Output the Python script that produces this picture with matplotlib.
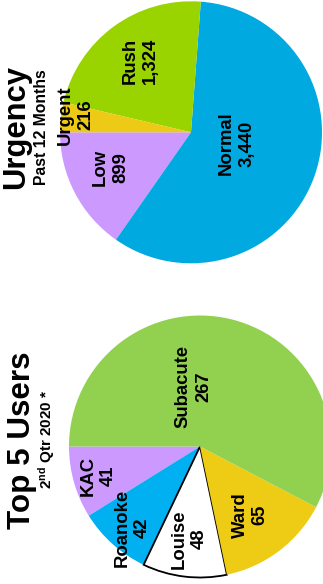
import matplotlib
matplotlib.use("Agg")
import matplotlib.pyplot as plt
import numpy as np

# ---- data ----
urg_labels = ["Low", "Normal", "Rush", "Urgent"]
urg_values = [899, 3440, 1324, 216]
urg_colors = ["#CC99FF", "#00A9E0", "#99D300", "#EDCA16"]

usr_labels = ["KAC", "Roanoke", "Louise", "Ward", "Subacute"]
usr_values = [41, 42, 48, 65, 267]
usr_colors = ["#CC99FF", "#00B0F0", "#FFFFFF", "#EECC16", "#92D050"]

title1, sub1 = "Urgency", "Past 12 Months"
title2, sub2 = "Top 5 Users", r"2$^{\mathrm{nd}}$ Qtr 2020 *"

plt.rcParams["font.family"] = ["Liberation Sans", "DejaVu Sans"]
plt.rcParams["mathtext.fontset"] = "custom"
plt.rcParams["mathtext.rm"] = "Liberation Sans:bold"
plt.rcParams["mathtext.bf"] = "Liberation Sans:bold"
plt.rcParams["mathtext.it"] = "Liberation Sans:bold"

W, H = 323, 584
fig = plt.figure(figsize=(W / 100, H / 100), dpi=100)
ax = fig.add_axes([0, 0, 1, 1])

R = 131
c1 = (191, H - 132.3)
c2 = (200, H - 446.5)

w1, _ = ax.pie(urg_values, colors=urg_colors, startangle=180, counterclock=True,
               center=c1, radius=R, wedgeprops=dict(linewidth=0))
w2, _ = ax.pie(usr_values, colors=usr_colors, startangle=180, counterclock=True,
               center=c2, radius=R, wedgeprops=dict(linewidth=0))
w2[2].set_edgecolor("black")
w2[2].set_linewidth(1.3)

ax.set_xlim(0, W)
ax.set_ylim(0, H)
ax.set_aspect("auto")
ax.axis("off")

def place(wedges, labels, values, center, fracs, offs, fs):
    for w, lab, v, f, o in zip(wedges, labels, values, fracs, offs):
        ang = np.deg2rad((w.theta1 + w.theta2) / 2 + o)
        x = center[0] + f * R * np.cos(ang)
        y = center[1] + f * R * np.sin(ang)
        ax.text(x, y, f"{lab}\n{v:,}", rotation=90, ha="center", va="center",
                multialignment="center", fontsize=fs, fontweight="bold",
                linespacing=1.25, color="black")

place(w1, urg_labels, urg_values, c1, [0.67, 0.36, 0.67, 0.89], [-4, 6, -1, -2], 13.3)
place(w2, usr_labels, usr_values, c2, [0.81, 0.81, 0.71, 0.65, 0.46], [0, 2, 0, -1, 20], 13.3)

def title(x, y, s, fs):
    ax.text(x, y, s, rotation=90, rotation_mode="anchor", ha="center",
            va="baseline", fontsize=fs, fontweight="bold")

title(24, H - 127, title1, 22.3)
title(46, H - 127, sub1, 11.3)
title(30, H - 440, title2, 22.6)
title(52, H - 439, sub2, 11)

fig.savefig("out.png", dpi=100)
